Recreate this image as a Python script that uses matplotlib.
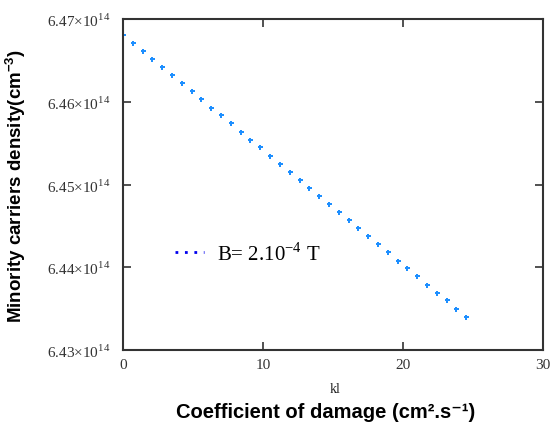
import numpy as np
import matplotlib
matplotlib.use("Agg")
import matplotlib.pyplot as plt
from matplotlib.lines import Line2D
from matplotlib.ticker import FixedLocator, FuncFormatter

plt.rcParams['mathtext.fontset'] = 'custom'
plt.rcParams['mathtext.rm'] = 'Liberation Serif'
plt.rcParams['mathtext.bf'] = 'Liberation Sans:bold'

# damage coefficient kl (cm2.s-1)
kl = [0.0, 0.7, 1.4, 2.1, 2.8, 3.5, 4.2, 4.9, 5.6, 6.3, 7.0, 7.7,
      8.4, 9.1, 9.8, 10.5, 11.2, 11.9, 12.6, 13.3, 14.0, 14.7, 15.4, 16.1,
      16.8, 17.5, 18.2, 18.9, 19.6, 20.3, 21.0, 21.7, 22.4, 23.1, 23.8, 24.5]
# minority carriers density, in units of 1e14 cm-3
density = [6.4681, 6.4671, 6.4661, 6.4652, 6.4642, 6.4632, 6.4623, 6.4613,
           6.4603, 6.4593, 6.4584, 6.4574, 6.4564, 6.4554, 6.4545, 6.4535,
           6.4525, 6.4515, 6.4506, 6.4496, 6.4486, 6.4476, 6.4467, 6.4457,
           6.4447, 6.4438, 6.4428, 6.4418, 6.4408, 6.4399, 6.4389, 6.4379,
           6.4369, 6.4360, 6.4350, 6.4340]
yticks = [6.43, 6.44, 6.45, 6.46, 6.47]
xticks = [0, 10, 20, 30]
legend_label = r'B= 2.10$^{-4}$ T'

fig = plt.figure(figsize=(5.53, 4.27), dpi=100)
ax = fig.add_axes([0.2224, 0.178, 0.76, 0.775])

ax.plot(kl, density, linestyle='none', marker='P', markersize=3.6,
        color='#1E8FFF', markeredgewidth=0)

ax.set_xlim(0, 30)
ax.set_ylim(6.43, 6.47)
ax.xaxis.set_major_locator(FixedLocator(xticks))
ax.yaxis.set_major_locator(FixedLocator(yticks))
ax.yaxis.set_major_formatter(FuncFormatter(lambda v, p: r'$%.2f{\times}10^{14}$' % v))

for s in ax.spines.values():
    s.set_linewidth(1.5)
    s.set_color('#333333')
ax.tick_params(direction='in', length=6, width=1.2, color='#333333',
               top=True, right=True, labelcolor='#333333')
for lab in ax.get_xticklabels():
    lab.set_family('Liberation Serif')
    lab.set_fontsize(11)
for lab in ax.get_yticklabels():
    lab.set_fontsize(11)
ax.tick_params(axis='x', pad=6)
ax.tick_params(axis='y', pad=9)

ax.set_ylabel(r'Minority carriers density(cm$^{\mathbf{-3}}$)', family='Liberation Sans',
              fontweight='bold', fontsize=13.5)
ax.yaxis.set_label_coords(-0.225, 0.5)

fig.text(0.606, 0.087, 'kl', family='Liberation Serif', fontsize=10,
         ha='center', va='center', color='#222222')
fig.text(0.588, 0.035, 'Coefficient of damage (cm².s⁻¹)',
         family=['Liberation Sans', 'DejaVu Sans'],
         fontweight='bold', fontsize=14.5, ha='center', va='center')

handle = Line2D([], [], linestyle=(0, (1, 2.4)), linewidth=2, color='#0000EE')
leg = ax.legend([handle], [legend_label], loc='center left', bbox_to_anchor=(0.124, 0.293),
                frameon=False, handlelength=1.4, handletextpad=0.6,
                borderpad=0, borderaxespad=0,
                prop={'family': 'Liberation Serif', 'size': 15})

fig.savefig('out.png', dpi=100)
